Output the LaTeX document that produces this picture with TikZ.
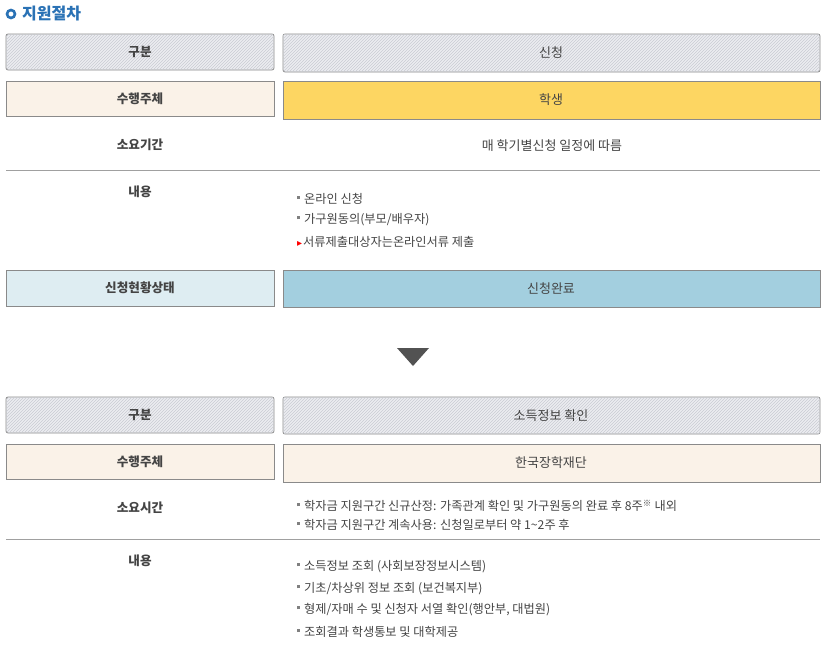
\documentclass[tikz,border=0pt]{standalone}
\usepackage{fontspec}
\setmainfont{Noto Sans CJK KR}
\newfontfamily\djv{DejaVu Sans}
\usetikzlibrary{patterns}
\definecolor{txt}{HTML}{444444}
\definecolor{bord}{HTML}{8A8A8A}
\definecolor{hatchbg}{HTML}{ECEDF1}
\definecolor{hatchln}{HTML}{C9CCD3}
\definecolor{cream}{HTML}{FAF2E8}
\definecolor{gold}{HTML}{FDD662}
\definecolor{paleblue}{HTML}{DEEDF2}
\definecolor{midblue}{HTML}{A3CFDF}
\definecolor{titleblue}{HTML}{2A72B5}
\definecolor{linegray}{HTML}{A0A0A0}
\newcommand{\sqb}{{\color{gray}\rule[4.5pt]{3pt}{3pt}}\hspace{4pt}}
\newcommand{\redb}{{\djv\fontsize{10}{10}\selectfont\color{red}▸}\hspace{1pt}}
\tikzset{
  x=1pt,y=-1pt,
  every node/.style={text=txt,font=\fontsize{13}{15}\selectfont},
  hatchbox/.style={draw=bord,line width=0.8pt,rounded corners=2pt,fill=hatchbg,
     postaction={pattern=north east lines,pattern color=hatchln}},
  plainbox/.style={draw=bord,line width=0.8pt},
  lbl/.style={font=\bfseries\fontsize{12.6}{14}\selectfont},
  item/.style={anchor=west,inner sep=0pt,font=\fontsize{12.2}{14}\selectfont},
  sep/.style={draw=linegray,line width=0.9pt}
}
\begin{document}
\begin{tikzpicture}
\useasboundingbox (0,0) rectangle (826,646);
% title
\draw[titleblue,line width=2.6pt] (11,14) circle (4);
\node[anchor=west,inner sep=0pt,text=titleblue,font=\bfseries\fontsize{16}{18}\selectfont] (title) at (22,14) {지원절차};
% ---- upper block
\draw[hatchbox] (6,34) rectangle (274,70);
\node[lbl] (g1) at (140,52) {구분};
\draw[hatchbox] (283,34) rectangle (820,72);
\node (g1v) at (551,53) {신청};
\draw[plainbox,fill=cream] (6,81) rectangle (274,116);
\node[lbl] (s1) at (140,99) {수행주체};
\draw[plainbox,fill=gold] (283,81) rectangle (820,119);
\node (s1v) at (551,100) {학생};
\node[lbl] (t1) at (140,145) {소요기간};
\node (t1v) at (552,146) {매 학기별신청 일정에 따름};
\draw[sep] (6,170) -- (820,170);
\node[lbl] (c1) at (140,192) {내용};
\node[item] (c1a) at (297,199) {\sqb 온라인 신청};
\node[item] (c1b) at (297,220) {\sqb 가구원동의(부모/배우자)};
\node[item] (c1c) at (297,242) {\redb 서류제출대상자는온라인서류 제출};
\draw[plainbox,fill=paleblue] (6,270) rectangle (274,306);
\node[lbl] (st) at (140,288) {신청현황상태};
\draw[plainbox,fill=midblue] (283,270) rectangle (820,307);
\node (stv) at (551,289) {신청완료};
% arrow
\fill[fill=black!68] (397,348) -- (429,348) -- (413,366) -- cycle;
% ---- lower block
\draw[hatchbox] (6,397) rectangle (274,433);
\node[lbl] (g2) at (140,415) {구분};
\draw[hatchbox] (283,397) rectangle (820,434);
\node (g2v) at (551,416) {소득정보 확인};
\draw[plainbox,fill=cream] (6,444) rectangle (274,479);
\node[lbl] (s2) at (140,462) {수행주체};
\draw[plainbox,fill=cream] (283,444) rectangle (820,482);
\node (s2v) at (551,463) {한국장학재단};
\node[lbl] (t2) at (140,508) {소요시간};
\node[item] (t2a) at (297,506) {\sqb 학자금 지원구간 신규산정: 가족관계 확인 및 가구원동의 완료 후 8주\textsuperscript{※} 내외};
\node[item] (t2b) at (297,525) {\sqb 학자금 지원구간 계속사용: 신청일로부터 약 1\textasciitilde2주 후};
\draw[sep] (6,539) -- (820,539);
\node[lbl] (c2) at (140,561) {내용};
\node[item] (c2a) at (297,567) {\sqb 소득정보 조회 (사회보장정보시스템)};
\node[item] (c2b) at (297,589) {\sqb 기초/차상위 정보 조회 (보건복지부)};
\node[item] (c2c) at (297,610) {\sqb 형제/자매 수 및 신청자 서열 확인(행안부, 대법원)};
\node[item] (c2d) at (297,632) {\sqb 조회결과 학생통보 및 대학제공};
\end{tikzpicture}
\end{document}
